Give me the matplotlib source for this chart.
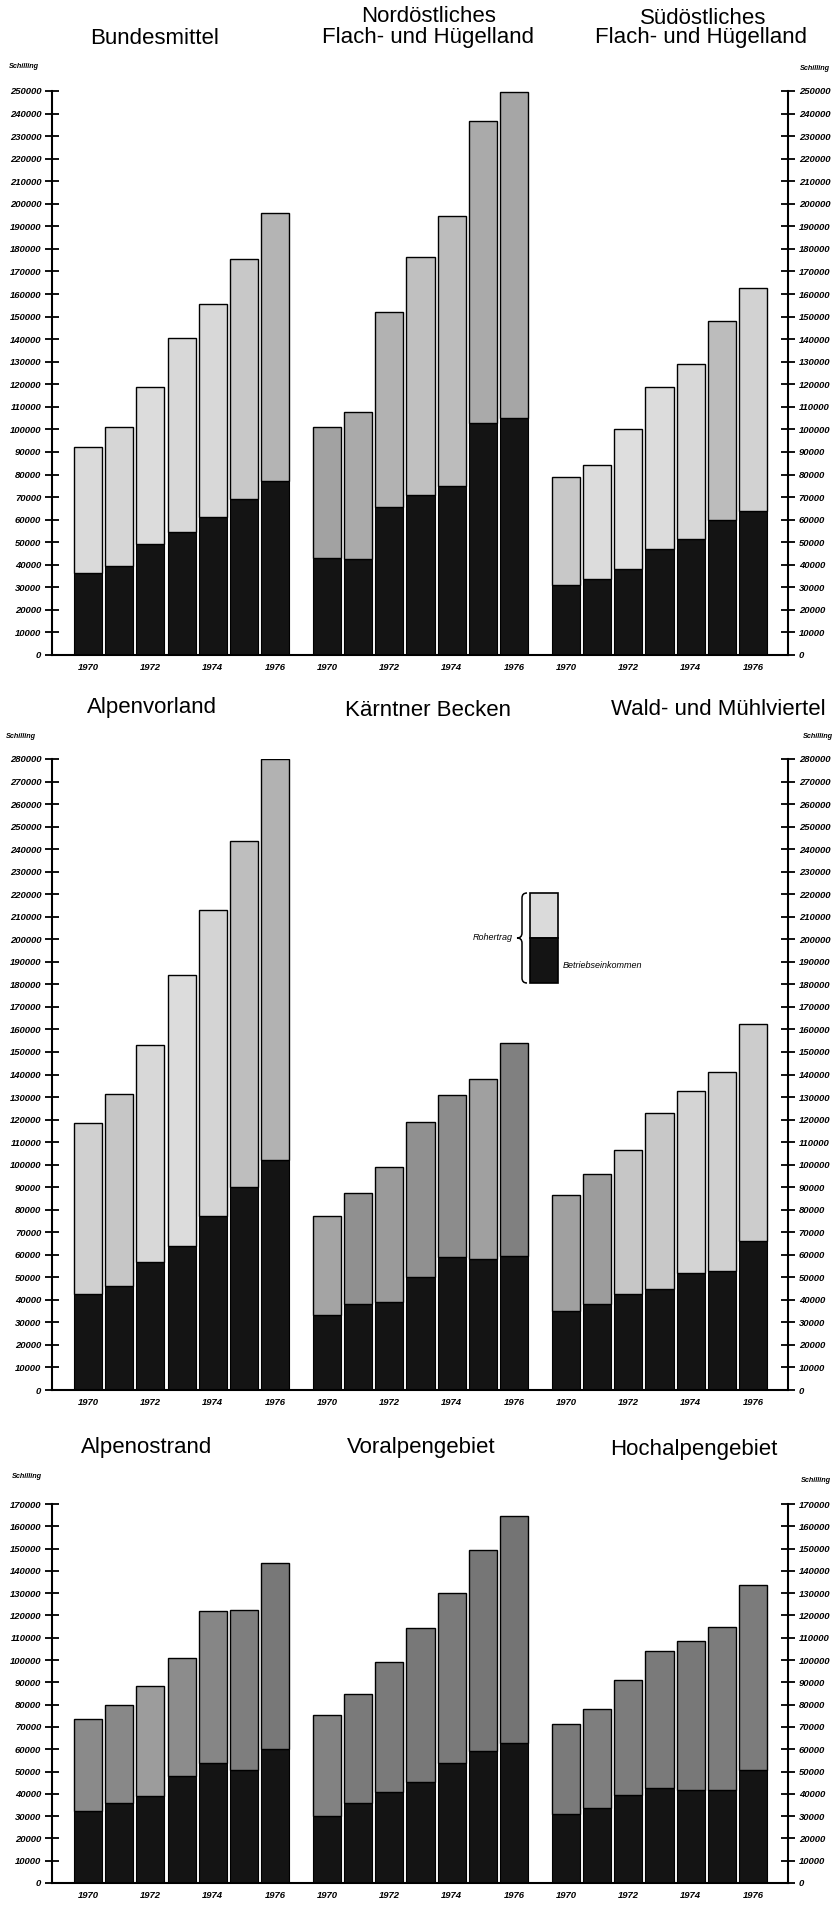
import matplotlib.pyplot as plt
from matplotlib.path import Path
from matplotlib.patches import PathPatch, Rectangle

W, H = 837, 1905

years = ['1970', '1971', '1972', '1973', '1974', '1975', '1976']
year_ticks = ['1970', '1972', '1974', '1976']

# Rohertrag (total bar) and Betriebseinkommen (black part), Schilling
bund_roh = [92000, 101000, 119000, 140500, 155500, 175500, 196000]
bund_bek = [36500, 39500, 49000, 54500, 61000, 69000, 77000]
nord_roh = [101000, 107500, 152000, 176500, 194500, 236500, 249500]
nord_bek = [43000, 42500, 65500, 71000, 75000, 103000, 105000]
sued_roh = [79000, 84000, 100000, 119000, 129000, 148000, 162500]
sued_bek = [31000, 33500, 38000, 47000, 51500, 60000, 64000]

alpv_roh = [118500, 131500, 153000, 184000, 213000, 243500, 280000]
alpv_bek = [42500, 46000, 57000, 64000, 77000, 90000, 102000]
kaer_roh = [77000, 87500, 99000, 119000, 131000, 138000, 154000]
kaer_bek = [33500, 38000, 39000, 50000, 59000, 58000, 59500]
wald_roh = [86500, 96000, 106500, 123000, 132500, 141000, 162500]
wald_bek = [35000, 38000, 42500, 45000, 52000, 53000, 66000]

alpo_roh = [73500, 80000, 88500, 101000, 122000, 122500, 143500]
alpo_bek = [32500, 36000, 39000, 48000, 54000, 50500, 60000]
vora_roh = [75500, 85000, 99000, 114500, 130000, 149500, 164500]
vora_bek = [30000, 36000, 41000, 45500, 54000, 59000, 63000]
hoch_roh = [71500, 78000, 91000, 104000, 108500, 115000, 133500]
hoch_bek = [31000, 33500, 39500, 42500, 41500, 41500, 50500]

# grey tone of the stippled upper part, per bar
bund_col = ['#dadada', '#d6d6d6', '#dcdcdc', '#d8d8d8', '#d8d8d8', '#c8c8c8', '#b4b4b4']
nord_col = ['#a2a2a2', '#aaaaaa', '#b2b2b2', '#c0c0c0', '#bcbcbc', '#aaaaaa', '#a6a6a6']
sued_col = ['#c8c8c8', '#dcdcdc', '#dedede', '#dcdcdc', '#d8d8d8', '#bcbcbc', '#d2d2d2']
alpv_col = ['#d0d0d0', '#c6c6c6', '#d8d8d8', '#dcdcdc', '#d4d4d4', '#bebebe', '#b2b2b2']
kaer_col = ['#a4a4a4', '#909090', '#9a9a9a', '#909090', '#8c8c8c', '#a0a0a0', '#808080']
wald_col = ['#a0a0a0', '#9c9c9c', '#c6c6c6', '#c8c8c8', '#d4d4d4', '#d0d0d0', '#cccccc']
alpo_col = ['#8a8a8a', '#888888', '#9c9c9c', '#8c8c8c', '#868686', '#7e7e7e', '#787878']
vora_col = ['#828282', '#7a7a7a', '#7a7a7a', '#787878', '#7a7a7a', '#767676', '#747474']
hoch_col = ['#7a7a7a', '#7e7e7e', '#7c7c7c', '#7a7a7a', '#787878', '#7c7c7c', '#7c7c7c']

rows = [
    # panels, ymax, pixel row of 0, pixel row of ymax
    ([(bund_roh, bund_bek, bund_col), (nord_roh, nord_bek, nord_col), (sued_roh, sued_bek, sued_col)], 250000, 655, 91),
    ([(alpv_roh, alpv_bek, alpv_col), (kaer_roh, kaer_bek, kaer_col), (wald_roh, wald_bek, wald_col)], 280000, 1390, 759),
    ([(alpo_roh, alpo_bek, alpo_col), (vora_roh, vora_bek, vora_col), (hoch_roh, hoch_bek, hoch_col)], 170000, 1883, 1504),
]

titles = [
    ('Bundesmittel', 155, 38), ('Nordöstliches', 429, 17), ('Flach- und Hügelland', 428, 38),
    ('Südöstliches', 703, 18), ('Flach- und Hügelland', 701, 38),
    ('Alpenvorland', 152, 708), ('Kärntner Becken', 428, 711), ('Wald- und Mühlviertel', 718, 709),
    ('Alpenostrand', 147, 1448), ('Voralpengebiet', 421, 1448), ('Hochalpengebiet', 694, 1450),
]
schilling = [(24, 67), (815, 68), (21, 737), (818, 737), (27, 1477), (816, 1481)]

sans = ['Liberation Sans', 'DejaVu Sans']
small = dict(family=sans, fontstyle='italic', fontweight='bold', fontsize=6.8)

fig = plt.figure(figsize=(W / 100, H / 100), dpi=100)

AX_L, AX_R = 52, 788
PANEL_STEP = 7.66
for panels, ymax, y0, y1 in rows:
    ax = fig.add_axes([AX_L / W, 1 - y0 / H, (AX_R - AX_L) / W, (y0 - y1) / H])
    ticks_x, ticks_lab = [], []
    for p, (roh, bek, col) in enumerate(panels):
        x = [p * PANEL_STEP + i for i in range(len(years))]
        upper = [r - b for r, b in zip(roh, bek)]
        ax.bar(x, bek, width=0.9, color='#141414', edgecolor='black', linewidth=0.8)
        ax.bar(x, upper, bottom=bek, width=0.9, color=col, edgecolor='black', linewidth=1.0)
        for xi, yr in zip(x, years):
            if yr in year_ticks:
                ticks_x.append(xi)
                ticks_lab.append(yr)
    ax.set_xlim(-1.154, 22.44)
    ax.set_ylim(0, ymax)
    ax.spines['top'].set_visible(False)
    for s in ['left', 'right', 'bottom']:
        ax.spines[s].set_linewidth(1.5)
    ax.set_xticks(ticks_x)
    ax.set_xticklabels(ticks_lab, **small)
    ax.tick_params(axis='x', length=0, pad=6)
    ax.set_yticks(range(0, ymax + 1, 10000))
    ax.set_yticklabels([str(v) for v in range(0, ymax + 1, 10000)], **small)
    ax.tick_params(axis='y', direction='inout', length=9.5, width=1.3,
                   left=True, right=True, labelleft=True, labelright=True, pad=3)

for t, x, y in titles:
    fig.text(x / W, 1 - y / H, t, ha='center', va='center', fontsize=16, family=sans)
for x, y in schilling:
    fig.text(x / W, 1 - y / H, 'Schilling', ha='center', va='center',
             family=sans, fontstyle='italic', fontweight='bold', fontsize=5.2)

# legend key with brace
ov = fig.add_axes([0, 0, 1, 1], facecolor='none')
ov.set_xlim(0, W)
ov.set_ylim(H, 0)
ov.axis('off')
ov.add_patch(Rectangle((530, 893), 28, 45, facecolor='#dadada', edgecolor='black', linewidth=1.2))
ov.add_patch(Rectangle((530, 938), 28, 45, facecolor='#141414', edgecolor='black', linewidth=1.2))
verts = [(527, 893), (522, 893), (522, 898), (522, 903),
         (522, 933), (522, 938), (517, 938), (522, 938), (522, 943),
         (522, 978), (522, 983), (527, 983)]
codes = [Path.MOVETO, Path.CURVE3, Path.CURVE3, Path.LINETO,
         Path.LINETO, Path.CURVE3, Path.CURVE3, Path.CURVE3, Path.CURVE3,
         Path.LINETO, Path.CURVE3, Path.CURVE3]
ov.add_patch(PathPatch(Path(verts, codes), facecolor='none', edgecolor='black', linewidth=1.1))
ov.text(513, 938, 'Rohertrag', ha='right', va='center', family=sans, fontstyle='italic', fontsize=6.5)
ov.text(563, 965, 'Betriebseinkommen', ha='left', va='center', family=sans, fontstyle='italic', fontsize=6.5)

fig.savefig('out.png', dpi=100, facecolor='white')
